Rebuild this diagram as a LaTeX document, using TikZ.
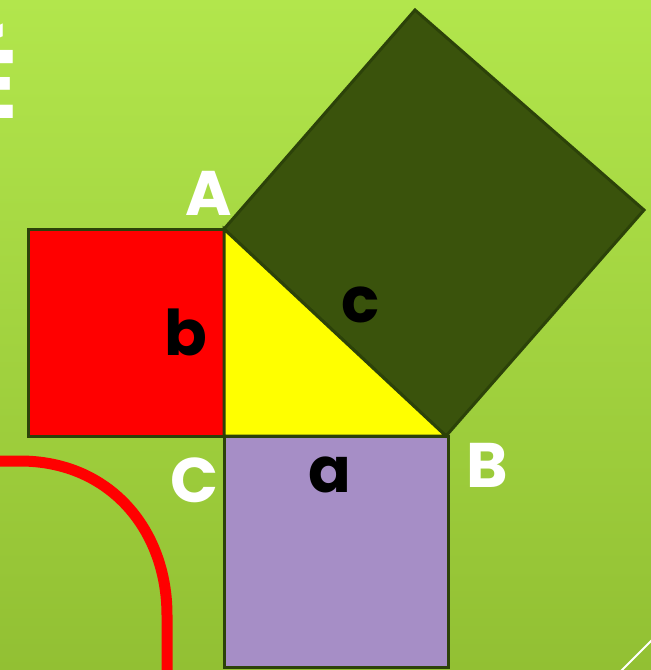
\documentclass[tikz,border=0pt]{standalone}
\usepackage{fontspec}
\setmainfont{Poppins}
\begin{document}
\begin{tikzpicture}[x=1pt,y=-1pt,
  sq/.style={draw=edgegreen,line width=3pt,line join=miter},
  lblw/.style={text=white,font=\fontsize{63}{63}\selectfont\bfseries,inner sep=0pt,anchor=base},
  lblk/.style={text=black,font=\fontsize{63}{63}\selectfont\bfseries,inner sep=0pt,anchor=base}]
\definecolor{bgtop}{HTML}{B2E64C}
\definecolor{bgbot}{HTML}{92C033}
\definecolor{edgegreen}{HTML}{2C4209}
\definecolor{darkgreen}{HTML}{3A530C}
\definecolor{lilac}{HTML}{A68EC6}
\definecolor{pureyellow}{HTML}{FFFF00}
\definecolor{purered}{HTML}{FF0000}
\useasboundingbox (0,0) rectangle (651,670);
\clip (0,0) rectangle (651,670);
\shade[top color=bgtop,bottom color=bgbot] (0,0) rectangle (651,670);
% corners
\coordinate (A) at (224,229);
\coordinate (C) at (224,436);
\coordinate (B) at (446,436);
\coordinate (E) at (415,10);
\coordinate (D) at (644,210);
% squares
\draw[sq,fill=purered] (28,229) rectangle (C);
\draw[sq,fill=lilac] (C) rectangle (448,667);
\draw[sq,fill=darkgreen] (A) -- (E) -- (D) -- (B) -- cycle;
\draw[sq,fill=pureyellow] (A) -- (C) -- (B) -- cycle;
% red curve
\coordinate (r0) at (-5,461);
\coordinate (r1) at (20,461);
\coordinate (r2) at (167,615);
\coordinate (r3) at (167,680);
\draw[purered,line width=11pt] (r0) -- (r1) .. controls (110,461) and (167,530) .. (r2) -- (r3);
% white thin line
\coordinate (w0) at (618,674);
\coordinate (w1) at (655,637);
\draw[white,line width=2pt] (w0) -- (w1);
% title fragment
\node[text=white,font=\fontsize{97}{97}\selectfont\bfseries,inner sep=0pt,anchor=base east] (title) at (18,118) {É};
% labels
\node[lblw] (lA) at (209,215) {A};
\node[lblw] (lB) at (487,487) {B};
\node[lblw] (lC) at (195,502) {C};
\node[lblk] (la) at (330,492) {a};
\node[lblk] (lb) at (186,355) {b};
\node[lblk] (lc) at (361,322) {c};
\end{tikzpicture}
\end{document}
